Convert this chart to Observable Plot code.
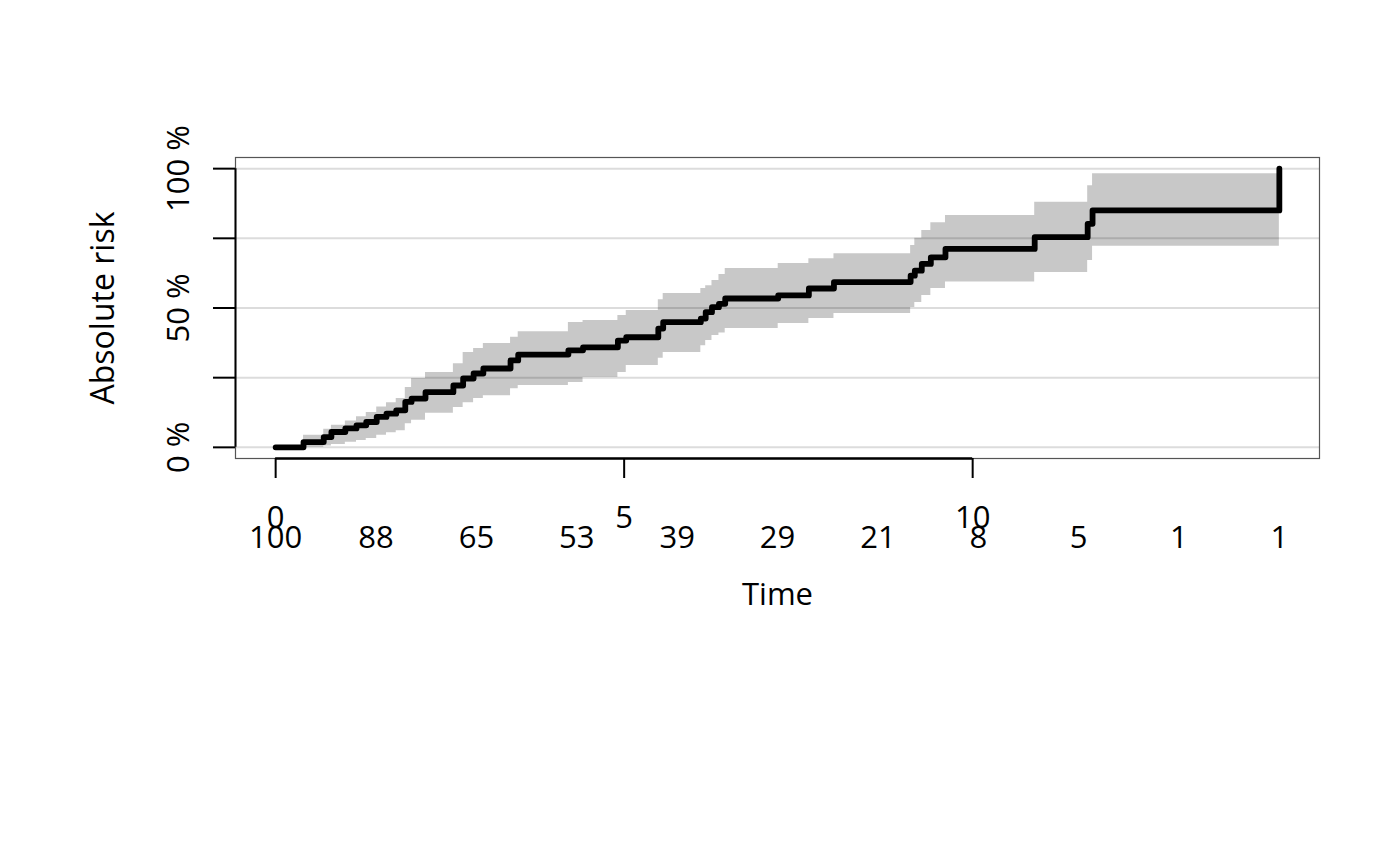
<!DOCTYPE html>
<html>
<head>
<meta charset="utf-8">
<script src="https://cdn.jsdelivr.net/npm/d3@7"></script>
<script src="https://cdn.jsdelivr.net/npm/@observablehq/plot@0.6"></script>
<style>
  html, body { margin: 0; padding: 0; background: #fff; }
  #chart svg { display: block; }
</style>
</head>
<body>
<div id="chart"></div>
<script>
// Step times of the cumulative risk curve
const times = [0, 0.40, 0.69, 0.80, 1.00, 1.16, 1.30, 1.45, 1.59, 1.73, 1.86, 1.95, 2.15, 2.55, 2.69, 2.84, 2.98, 3.37, 3.48, 4.20, 4.41, 4.91, 5.03, 5.49, 5.56, 6.10, 6.17, 6.26, 6.36, 6.45, 7.21, 7.65, 8.01, 9.11, 9.17, 9.27, 9.40, 9.61, 10.89, 11.65, 11.72, 14.40];
// Absolute risk (%)
const risk = [0, 1.9, 3.7, 5.5, 6.8, 7.9, 9.1, 10.9, 12.1, 13.3, 16.3, 17.5, 19.8, 22.2, 24.7, 26.5, 28.3, 31.2, 33.3, 34.8, 35.9, 38.3, 39.5, 42.6, 44.9, 46.2, 48.5, 50.3, 51.5, 53.4, 54.5, 57.0, 59.3, 61.6, 63.4, 65.8, 68.2, 71.2, 75.4, 80.2, 85.0, 100];
// Confidence band (%)
const lower = [0, 0, 0.5, 1.0, 1.8, 2.5, 3.2, 4.3, 5.2, 6.0, 8.5, 9.7, 12.2, 14.3, 16.0, 17.5, 18.5, 21.0, 22.2, 23.3, 25.1, 26.9, 29.4, 32.0, 34.0, 36.5, 38.3, 40.1, 41.0, 42.6, 44.4, 46.2, 48.0, 50.2, 52.0, 54.5, 57.0, 59.3, 62.7, 67.0, 72.2, 72.2];
const upper = [0, 4.3, 6.5, 7.9, 9.5, 11.0, 12.5, 14.5, 16.0, 17.5, 21.5, 24.7, 26.9, 30.0, 34.0, 35.5, 37.3, 39.5, 41.5, 44.8, 45.5, 47.3, 49.1, 53.0, 55.2, 57.0, 58.0, 59.9, 62.0, 64.2, 66.0, 67.7, 69.5, 72.4, 75.0, 77.8, 80.6, 83.2, 87.9, 93.9, 98.2, 98.2];
// Numbers at risk
const riskTimes = [0, 1.44, 2.88, 4.32, 5.76, 7.2, 8.64, 10.08, 11.52, 12.96, 14.4];
const atRisk = [100, 88, 65, 53, 39, 29, 21, 8, 5, 1, 1];
// Axis ticks
const xTicks = [0, 5, 10];
const yTicks = [0, 25, 50, 75, 100];
const yTickLabels = ["0 %", "", "50 %", "", "100 %"];

const curve = times.map((t, i) => ({time: t, risk: risk[i], lower: lower[i], upper: upper[i]}));
const table = riskTimes.map((t, i) => ({time: t, n: atRisk[i]}));

const tMax = d3.max(times);
const xDomain = [-0.04 * tMax, tMax * 1.04];
const yDomain = [-4, 104];

const FONT = 31;

const chart = Plot.plot({
  width: 1400,
  height: 866,
  marginLeft: 235,
  marginRight: 81,
  marginTop: 157,
  marginBottom: 408,
  style: {fontFamily: "'Open Sans', 'Noto Sans', sans-serif", fontSize: FONT + "px", background: "#fff", color: "#000"},
  x: {domain: xDomain, axis: null},
  y: {domain: yDomain, axis: null},
  marks: [
    Plot.ruleY(yTicks, {stroke: "#dcdcdc", strokeWidth: 2}),
    Plot.areaY(curve, {x: "time", y1: "lower", y2: "upper", curve: "step-after", fill: "#000", fillOpacity: 0.215}),
    Plot.line(curve, {x: "time", y: "risk", curve: "step-after", stroke: "#000", strokeWidth: 5.8, strokeLinecap: "round", strokeLinejoin: "round"}),
    Plot.frame({stroke: "#555", strokeWidth: 1.2}),
    // y axis
    Plot.ruleX([xDomain[0]], {y1: yTicks[0], y2: yTicks[yTicks.length - 1], stroke: "#000", strokeWidth: 2}),
    Plot.axisY(yTicks, {
      tickSize: 22, tickPadding: 25, strokeWidth: 2,
      tickFormat: (d, i) => yTickLabels[yTicks.indexOf(d)],
      tickRotate: -90, textAnchor: "middle", lineAnchor: "bottom",
      fontSize: FONT, label: null
    }),
    // x axis
    Plot.ruleY([yDomain[0]], {x1: xTicks[0], x2: xTicks[xTicks.length - 1], stroke: "#000", strokeWidth: 2.4}),
    Plot.axisX(xTicks, {
      tickSize: 20, tickPadding: 49, strokeWidth: 2,
      lineAnchor: "bottom", fontSize: FONT, label: null
    }),
    // numbers at risk
    Plot.text(table, {x: "time", text: d => String(d.n), frameAnchor: "bottom", dy: 89, lineAnchor: "bottom", fontSize: FONT, fill: "#000"}),
    // axis titles
    Plot.text(["Time"], {frameAnchor: "bottom", dy: 146, lineAnchor: "bottom", fontSize: FONT, fill: "#000"}),
    Plot.text(["Absolute risk"], {frameAnchor: "left", dx: -122, rotate: -90, lineAnchor: "bottom", textAnchor: "middle", fontSize: 32, fill: "#000"})
  ]
});

document.getElementById("chart").appendChild(chart);
</script>
</body>
</html>
